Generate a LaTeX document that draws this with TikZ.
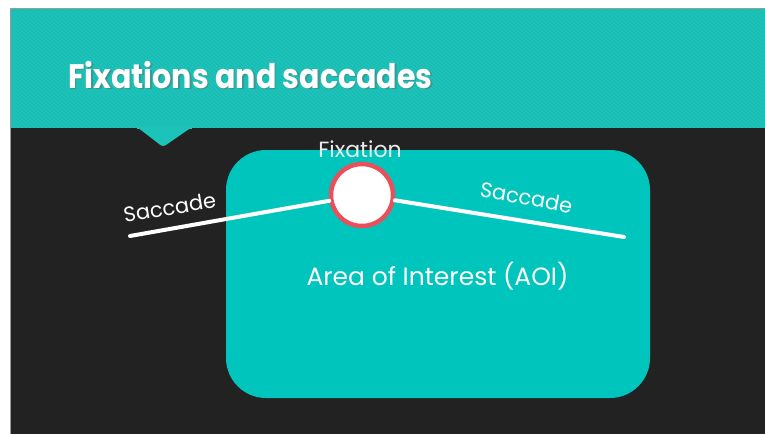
\documentclass[tikz,border=0pt]{standalone}
\usepackage{fontspec}
\setmainfont{Poppins}
\newfontfamily\titlefont[FakeStretch=0.885]{Poppins}
\definecolor{headTeal}{HTML}{1CC3B9}
\definecolor{aoiTeal}{HTML}{00C5BC}
\definecolor{slideDark}{HTML}{222222}
\definecolor{fixRed}{HTML}{E8505B}
\definecolor{frameGray}{HTML}{9A9A9A}
\tikzset{
  stripe/.style={headTeal!75!black, line width=0.8pt, opacity=0.18},
  aoibox/.style={fill=aoiTeal, rounded corners=40pt, inner sep=0pt},
  fixdot/.style={circle, draw=fixRed, line width=4.5pt, fill=white, minimum size=62pt, inner sep=0pt},
  saccline/.style={white, line width=4pt, line cap=round},
  lbl/.style={text=white, inner sep=0pt, anchor=base},
  titletext/.style={lbl, anchor=base west, font=\titlefont\bfseries\fontsize{34}{40}\selectfont},
}
\begin{document}
\begin{tikzpicture}[x=1pt, y=-1pt]
\useasboundingbox (0,0) rectangle (765,434);
\fill[white] (0,0) rectangle (765,434);
% slide body and frame
\fill[slideDark] (11,9) rectangle (765,434);
\draw[frameGray, line width=1pt] (10.5,434) -- (10.5,8.5) -- (765,8.5);
% title band with fine diagonal hatching
\fill[headTeal] (11,9) rectangle (765,128);
\begin{scope}
  \clip (11,9) rectangle (765,128);
  \foreach \i in {-130,-126,...,770} \draw[stripe] (\i,9) -- ++(119,119);
\end{scope}
% pointer below the band
\fill[headTeal, rounded corners=3pt] (137,127) -- (192,127) -- (163,147) -- cycle;
\fill[headTeal] (137,126) rectangle (192,128.5);
% title
\node[titletext, text=black!60, opacity=0.45] (titleshadow) at (69.5,89.5) {Fixations and saccades};
\node[titletext] (title) at (68,88) {Fixations and saccades};
% area of interest
\node[aoibox, minimum width=424pt, minimum height=248pt] (aoi) at (438,274) {};
\node[lbl, font=\fontsize{25}{30}\selectfont] (aoilabel) at (437.5,285) {Area of Interest (AOI)};
% fixation and saccades
\coordinate (sl) at (130,236);
\coordinate (sr) at (624,237);
\node[fixdot] (fix) at (362,195) {};
\draw[saccline] (sl) -- (fix);
\draw[saccline] (fix) -- (sr);
\node[lbl, text=black!8, font=\fontsize{22}{26}\selectfont] (fixlabel) at (360,157) {Fixation};
\node[lbl, rotate=9.5, font=\fontsize{21}{26}\selectfont] (saccleft) at (171,215) {Saccade};
\node[lbl, rotate=-10.5, font=\fontsize{21}{26}\selectfont] (saccright) at (525,205) {Saccade};
\end{tikzpicture}
\end{document}
